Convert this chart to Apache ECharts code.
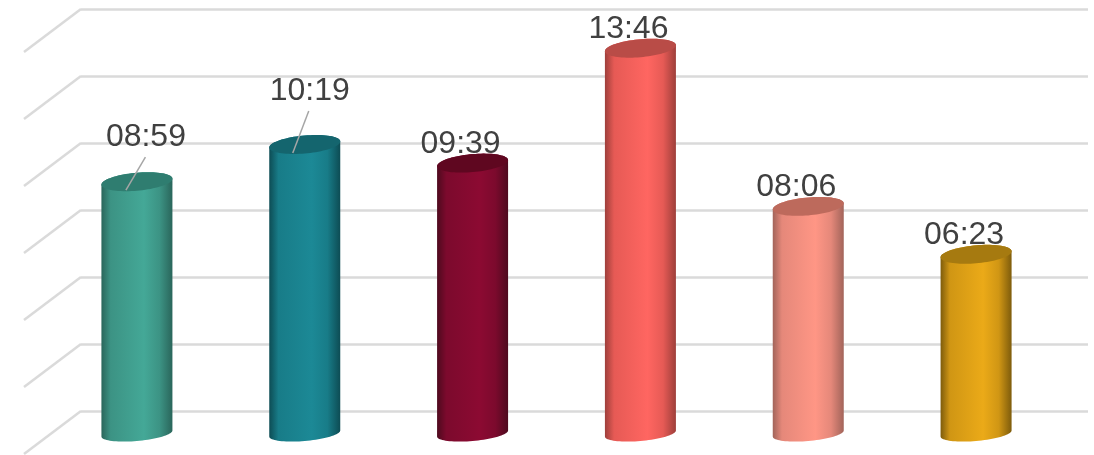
<!DOCTYPE html>
<html>
<head>
<meta charset="utf-8">
<style>html,body{margin:0;padding:0;background:#fff}#c{width:1094px;height:455px}</style>
<script src="https://cdn.jsdelivr.net/npm/echarts@6/dist/echarts.min.js"></script>
</head>
<body>
<div id="c"></div>
<script>
// Data
const categories = ['1', '2', '3', '4', '5', '6'];
const durationSeconds = [539, 619, 579, 826, 486, 383];
const axisTicks = [0, 144, 288, 432, 576, 720, 864];

// Styles
const centerColors = ['#44A897', '#1C8996', '#8C0A32', '#FF6661', '#FF9685', '#EBAA18'];
const midColors    = ['#3C9384', '#187C88', '#7C0A2D', '#E65A55', '#E5887A', '#D09614'];
const edgeColors   = ['#2A665B', '#0D4C54', '#4E0A1E', '#9E3F3B', '#A2645A', '#7E5C0C'];
const topColors    = ['#2F7D70', '#14656E', '#5F0720', '#B94C47', '#BD6A5C', '#A67A10'];
// label centre offset from the cylinder top centre, and optional leader line
const labelDX = [9, 5, -12, -12, -12, -12];
const labelDY = [-45, -53, -19, -19, -19, -19];
const leaders = [[8.5, -24.5, -11, 8.5], [4, -33.5, -12, 8.5], null, null, null, null];

const DEPTH_X = 57, DEPTH_Y = 43;
const FRONT_DX = -DEPTH_X / 2 + 0.5, FRONT_DY = DEPTH_Y / 2;
const HALF_W = 35.5;
const CAP_B = 9, CAP_S = 3;
const fmt = s => String(Math.floor(s / 60)).padStart(2, '0') + ':' + String(s % 60).padStart(2, '0');

function ellipsePt(cx, cy, b, s, t) {
  return [cx + HALF_W * Math.cos(t), cy + b * Math.sin(t) - s * Math.cos(t)];
}
function arc(cx, cy, b, s, t0, t1, n) {
  const pts = [];
  for (let i = 0; i <= n; i++) pts.push(ellipsePt(cx, cy, b, s, t0 + (t1 - t0) * i / n));
  return pts;
}

function renderWall(params, api) {
  const p = api.coord([0, api.value(0)]);
  const x = params.coordSys.x;
  return {
    type: 'line',
    silent: true,
    shape: { x1: x, y1: p[1], x2: x - DEPTH_X, y2: p[1] + DEPTH_Y },
    style: { stroke: '#DADADA', lineWidth: 2.5 }
  };
}

function renderBar(params, api) {
  const i = params.dataIndex;
  const top = api.coord([api.value(0), api.value(1)]);
  const base = api.coord([api.value(0), 0]);
  const cx = top[0] + FRONT_DX;
  const cyT = top[1] + FRONT_DY;
  const cyB = base[1] + FRONT_DY + 1;
  const body = arc(cx, cyB, 7.5, 3, 0, Math.PI, 40).concat(arc(cx, cyT, CAP_B, CAP_S, Math.PI, 2 * Math.PI, 40));
  const cap = arc(cx, cyT, CAP_B, CAP_S, 0, 2 * Math.PI, 80);
  const children = [
    { type: 'polygon', shape: { points: body }, style: {
        fill: { type: 'linear', x: 0, y: 0, x2: 1, y2: 0, colorStops: [
          { offset: 0, color: edgeColors[i] },
          { offset: 0.13, color: midColors[i] },
          { offset: 0.6, color: centerColors[i] },
          { offset: 0.82, color: midColors[i] },
          { offset: 1, color: edgeColors[i] }
        ] } } },
    { type: 'polygon', shape: { points: cap }, style: { fill: topColors[i] } }
  ];
  const ld = leaders[i];
  if (ld) {
    children.push({ type: 'line', shape: { x1: cx + ld[0], y1: cyT + ld[1], x2: cx + ld[2], y2: cyT + ld[3] },
      style: { stroke: '#A6A6A6', lineWidth: 1.5 } });
  }
  children.push({ type: 'text', style: {
    text: fmt(api.value(1)), x: cx + labelDX[i], y: cyT + labelDY[i],
    align: 'center', verticalAlign: 'middle',
    font: '32px "Liberation Sans", Arial, sans-serif', fill: '#404040'
  } });
  return { type: 'group', children };
}

const chart = echarts.init(document.getElementById('c'), null, { renderer: 'canvas' });
chart.setOption({
  animation: false,
  backgroundColor: '#fff',
  grid: { left: 81, right: 6, top: 9, bottom: 44 },
  xAxis: { type: 'category', data: categories, axisLine: { show: false }, axisTick: { show: false }, axisLabel: { show: false } },
  yAxis: { type: 'value', min: 0, max: 864, interval: 144, axisLine: { show: false }, axisTick: { show: false }, axisLabel: { show: false },
    splitLine: { show: true, lineStyle: { color: '#DADADA', width: 2.5 } } },
  series: [
    { type: 'custom', name: 'wall', clip: false, z: 1, silent: true, renderItem: renderWall,
      data: axisTicks.map(t => [t]), encode: { y: 0 } },
    { type: 'custom', name: 'durations', clip: false, z: 2, renderItem: renderBar,
      data: durationSeconds.map((v, i) => [i, v]), encode: { x: 0, y: 1 } }
  ]
});
</script>
</body>
</html>
